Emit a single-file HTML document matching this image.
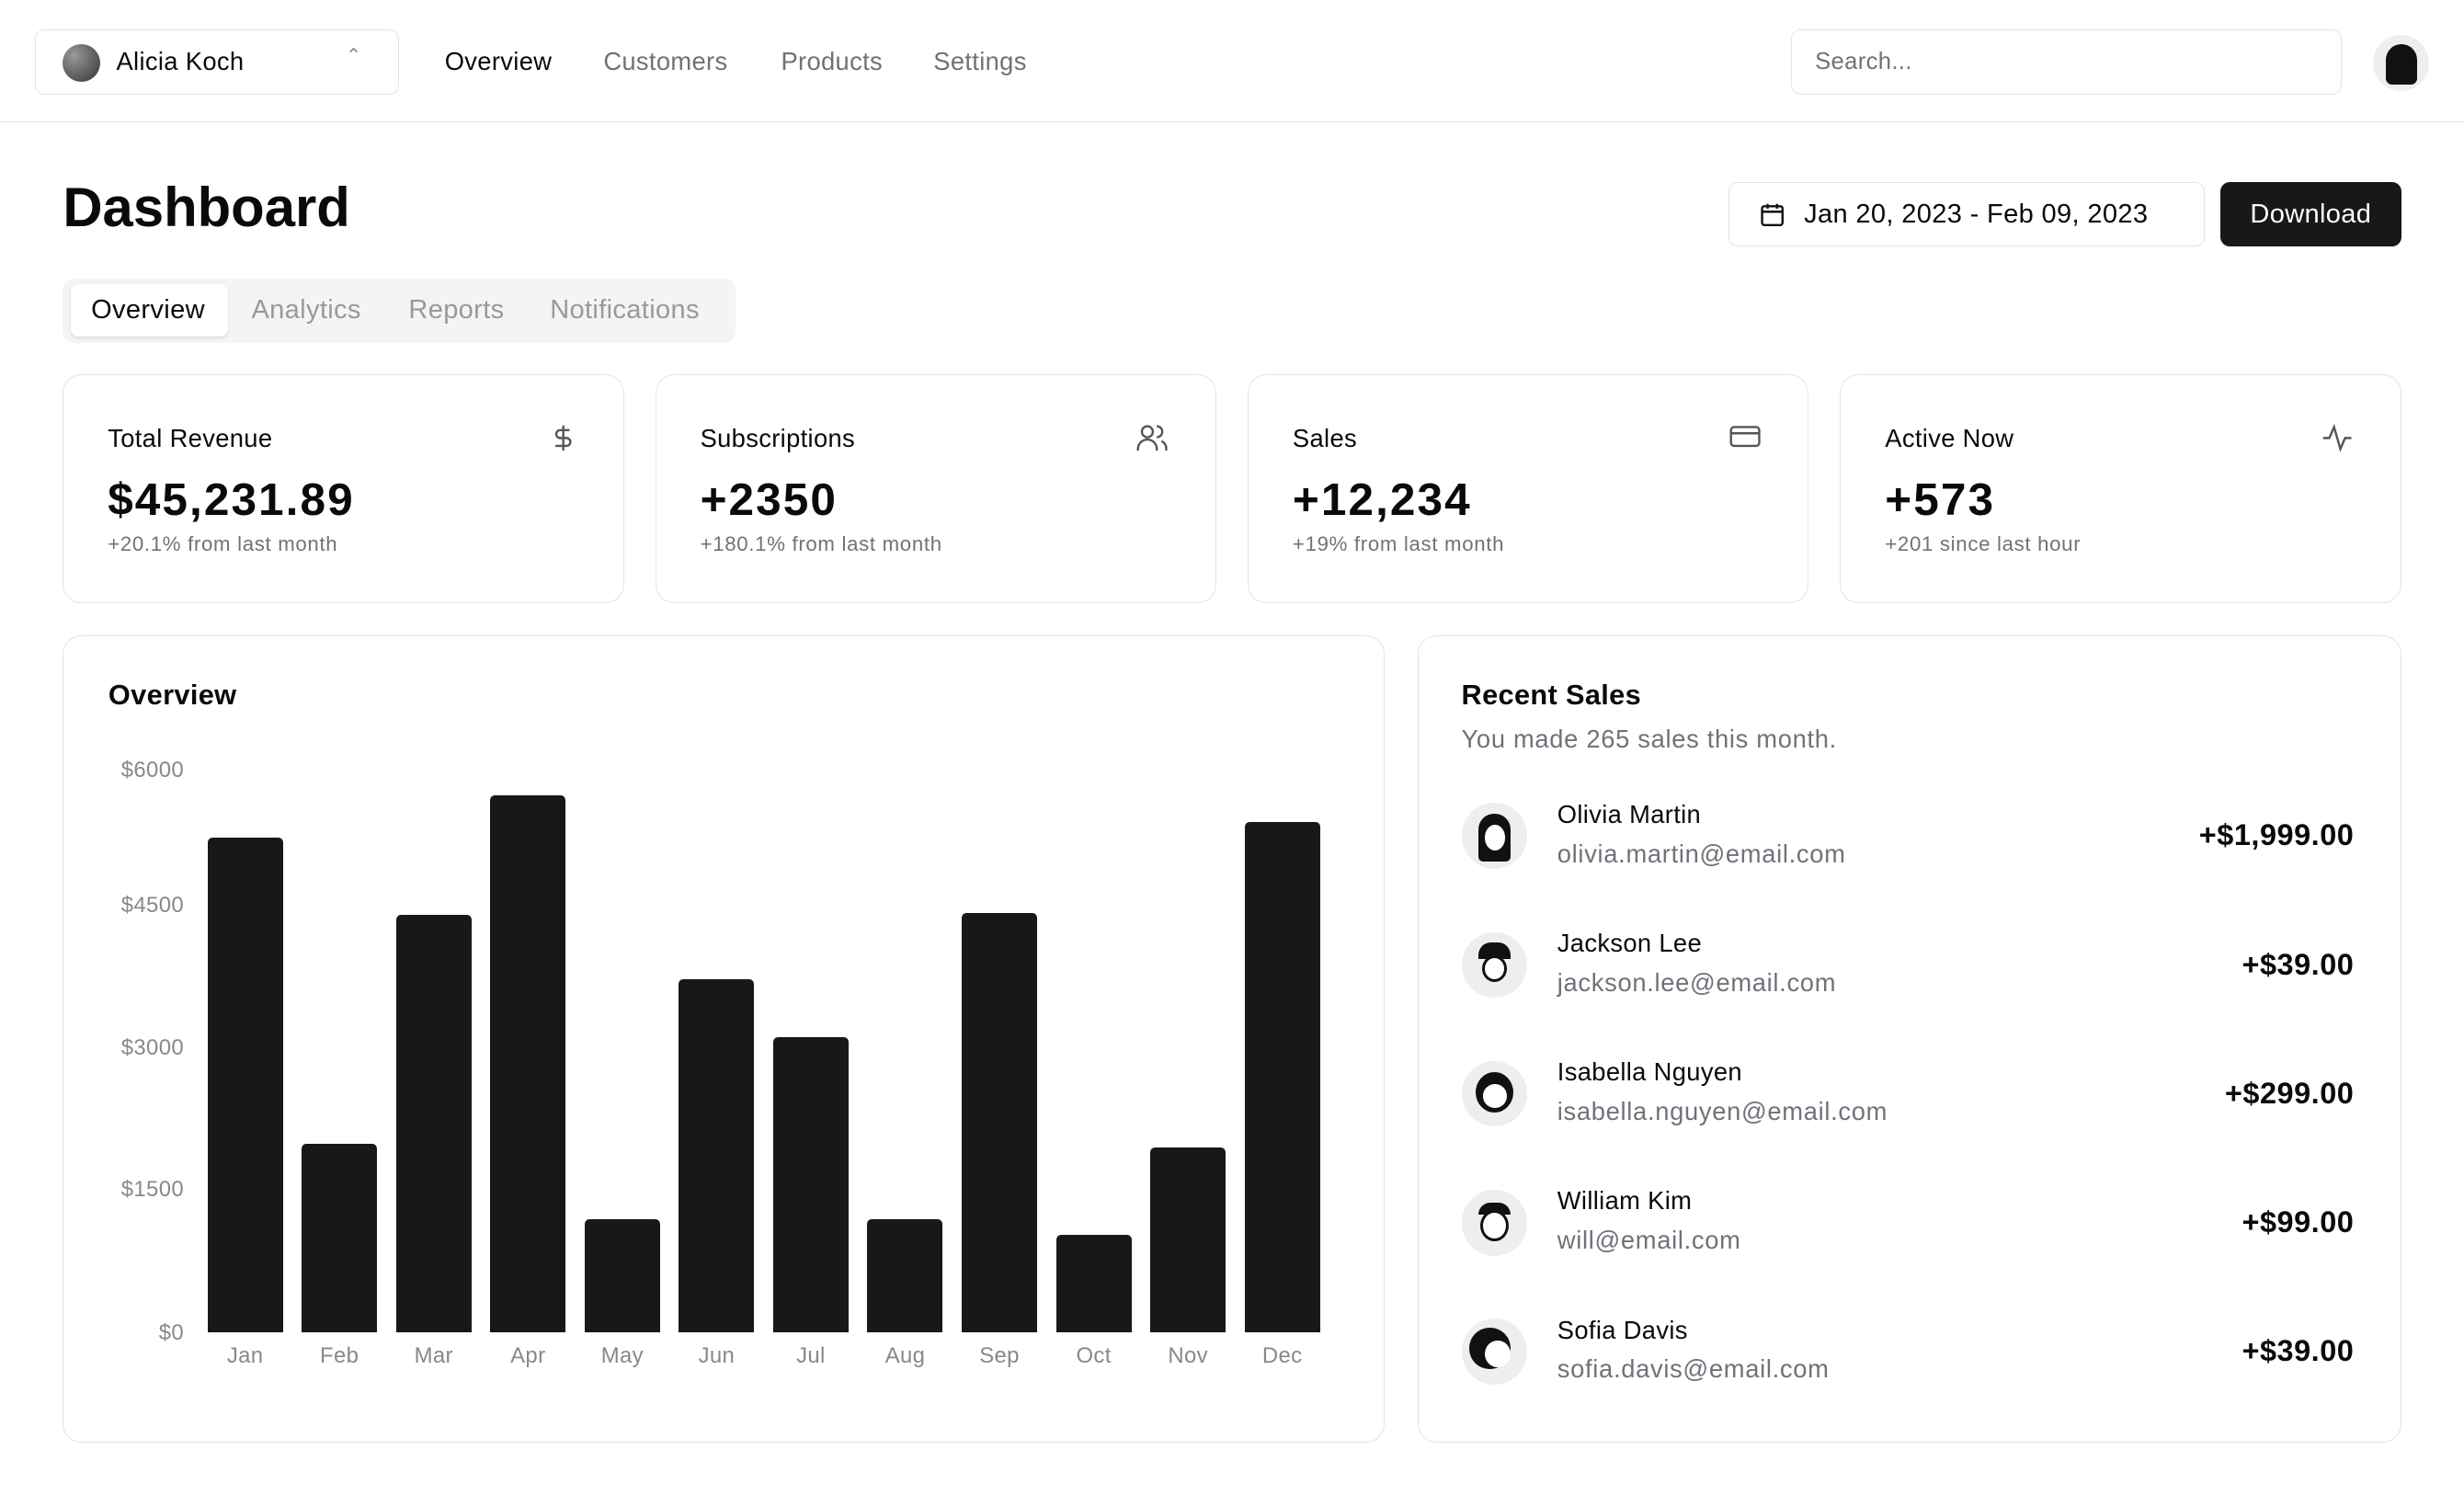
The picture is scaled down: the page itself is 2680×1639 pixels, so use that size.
<!DOCTYPE html>
<html><head><meta charset="utf-8">
<style>
*{box-sizing:border-box;margin:0;padding:0}
html,body{background:#fff}
body{zoom:1.70918;width:1568px;height:959px;position:relative;overflow:hidden;font-family:"Liberation Sans",sans-serif;color:#0a0a0a;letter-spacing:0.2px}
.a{position:absolute}
.box{position:absolute;border:1px solid #e4e4e7;border-radius:10px;background:#fff}
.nav{font-size:16px;top:30px}
.muted{color:#71717a}
.card .t{position:absolute;left:28px;top:31px;font-size:16px}
.card .v{position:absolute;left:28px;top:62px;font-size:29px;font-weight:bold;letter-spacing:1.2px}
.card .s{position:absolute;left:28px;top:100px;font-size:13px;color:#71717a;letter-spacing:0.4px}
.card svg{position:absolute;right:30px;top:31px}
.bar{position:absolute;width:48px;background:#18181b;border-radius:3px 3px 0 0}
.yl{position:absolute;right:0;width:60px;text-align:right;font-size:14px;color:#888}
.ml{position:absolute;width:48px;text-align:center;font-size:14px;color:#888;top:855px}
.row .n{position:absolute;left:991px;font-size:16px}
.row .e{position:absolute;left:991px;font-size:16px;color:#71717a;letter-spacing:0.4px}
.amt{position:absolute;right:70px;font-size:19px;font-weight:bold;letter-spacing:0.3px}
.av{position:absolute;left:930px;width:42px;height:42px;border-radius:50%;background:#eee;overflow:hidden}
</style></head><body>
<div class="box" style="left:22px;top:19px;width:232px;height:41px;border-radius:6px"></div>
<div class="a" style="left:40px;top:28px;width:24px;height:24px;border-radius:50%;background:radial-gradient(circle at 30% 30%,#999,#333)"></div>
<div class="a" style="left:74px;top:30px;font-size:16px">Alicia Koch</div>
<div class="a" style="left:220px;top:28px;font-size:12px;color:#888">⌃<br></div>
<div class="a nav" style="left:283px">Overview</div>
<div class="a nav muted" style="left:384px">Customers</div>
<div class="a nav muted" style="left:497px">Products</div>
<div class="a nav muted" style="left:594px">Settings</div>
<div class="box" style="left:1140px;top:19px;width:350px;height:41px;border-radius:6px"></div>
<div class="a muted" style="left:1155px;top:31px;font-size:15px">Search...</div>
<div class="a" style="left:1510px;top:22px;width:36px;height:36px;border-radius:50%;background:#eee"></div>
<div class="a" style="left:1518px;top:28px;width:20px;height:26px;border-radius:10px 10px 4px 4px;background:#111"></div>
<div class="a" style="left:0;top:77px;width:1568px;height:1px;background:#e4e4e7"></div>

<div class="a" style="left:40px;top:112px;font-size:35px;font-weight:bold;letter-spacing:0">Dashboard</div>
<div class="box" style="left:1100px;top:116px;width:303px;height:41px;border-radius:6px"></div>
<svg class="a" style="left:1120px;top:129px" width="16" height="16" viewBox="0 0 16 16" fill="none" stroke="#111" stroke-width="1.4"><rect x="1.5" y="2.5" width="13" height="12" rx="1.5"/><path d="M1.5 6h13M5 1v3M11 1v3"/></svg>
<div class="a" style="left:1148px;top:127px;font-size:17px">Jan 20, 2023 - Feb 09, 2023</div>
<div class="a" style="left:1413px;top:116px;width:115px;height:41px;border-radius:6px;background:#18181b;color:#fff;font-size:17px;text-align:center;line-height:41px">Download</div>

<div class="a" style="left:40px;top:177px;width:428px;height:41px;border-radius:7px;background:#f4f4f5"></div>
<div class="a" style="left:45px;top:181px;width:100px;height:33px;border-radius:5px;background:#fff;box-shadow:0 1px 2px rgba(0,0,0,.1)"></div>
<div class="a" style="left:58px;top:188px;font-size:17px">Overview</div>
<div class="a" style="left:160px;top:188px;font-size:17px;color:#999">Analytics</div>
<div class="a" style="left:260px;top:188px;font-size:17px;color:#999">Reports</div>
<div class="a" style="left:350px;top:188px;font-size:17px;color:#999">Notifications</div>

<div class="box card" style="left:40px;top:238px;width:357px;height:146px;border-radius:12px"><div class="t">Total Revenue</div><div class="v">$45,231.89</div><div class="s">+20.1% from last month</div><svg width="16" height="18" viewBox="0 0 16 18" fill="none" stroke="#555" stroke-width="1.4"><path d="M8 1v16M12 4H6a2.5 2.5 0 000 5h4a2.5 2.5 0 010 5H3"/></svg></div>
<div class="box card" style="left:417px;top:238px;width:357px;height:146px;border-radius:12px"><div class="t">Subscriptions</div><div class="v">+2350</div><div class="s">+180.1% from last month</div><svg width="20" height="18" viewBox="0 0 20 18" fill="none" stroke="#555" stroke-width="1.4"><circle cx="7" cy="5" r="3.5"/><path d="M1 17v-1a5 5 0 0112 0v1M13 1.5a3.5 3.5 0 010 7M16 11a5 5 0 013 5v1"/></svg></div>
<div class="box card" style="left:794px;top:238px;width:357px;height:146px;border-radius:12px"><div class="t">Sales</div><div class="v">+12,234</div><div class="s">+19% from last month</div><svg width="20" height="16" viewBox="0 0 20 16" fill="none" stroke="#555" stroke-width="1.4"><rect x="1" y="2" width="18" height="12" rx="2"/><path d="M1 6h18"/></svg></div>
<div class="box card" style="left:1171px;top:238px;width:357px;height:146px;border-radius:12px"><div class="t">Active Now</div><div class="v">+573</div><div class="s">+201 since last hour</div><svg width="20" height="18" viewBox="0 0 20 18" fill="none" stroke="#555" stroke-width="1.4"><path d="M1 9h4l3-7 4 14 3-7h4"/></svg></div>

<div class="box" style="left:40px;top:404px;width:841px;height:514px;border-radius:12px"></div>
<div class="a" style="left:69px;top:432px;font-size:18px;font-weight:bold">Overview</div>
<div class="a" style="left:57px;top:0;width:60px;height:900px">
<div class="yl" style="top:482px">$6000</div><div class="yl" style="top:568px">$4500</div><div class="yl" style="top:659px">$3000</div><div class="yl" style="top:749px">$1500</div><div class="yl" style="top:840px">$0</div></div>
<div class="bar" style="left:132px;top:533px;height:315px"></div>
<div class="bar" style="left:192px;top:728px;height:120px"></div>
<div class="bar" style="left:252px;top:582px;height:266px"></div>
<div class="bar" style="left:312px;top:506px;height:342px"></div>
<div class="bar" style="left:372px;top:776px;height:72px"></div>
<div class="bar" style="left:432px;top:623px;height:225px"></div>
<div class="bar" style="left:492px;top:660px;height:188px"></div>
<div class="bar" style="left:552px;top:776px;height:72px"></div>
<div class="bar" style="left:612px;top:581px;height:267px"></div>
<div class="bar" style="left:672px;top:786px;height:62px"></div>
<div class="bar" style="left:732px;top:730px;height:118px"></div>
<div class="bar" style="left:792px;top:523px;height:325px"></div>
<div class="ml" style="left:132px">Jan</div><div class="ml" style="left:192px">Feb</div><div class="ml" style="left:252px">Mar</div><div class="ml" style="left:312px">Apr</div><div class="ml" style="left:372px">May</div><div class="ml" style="left:432px">Jun</div><div class="ml" style="left:492px">Jul</div><div class="ml" style="left:552px">Aug</div><div class="ml" style="left:612px">Sep</div><div class="ml" style="left:672px">Oct</div><div class="ml" style="left:732px">Nov</div><div class="ml" style="left:792px">Dec</div>

<div class="box" style="left:902px;top:404px;width:626px;height:514px;border-radius:12px"></div>
<div class="a" style="left:930px;top:432px;font-size:18px;font-weight:bold">Recent Sales</div>
<div class="a muted" style="left:930px;top:461px;font-size:16px;letter-spacing:0.4px">You made 265 sales this month.</div>
<div class="row">
<div class="av" style="top:511px"><div class="a" style="left:11px;top:7px;width:20px;height:30px;border-radius:10px 10px 3px 3px;background:#111"></div><div class="a" style="left:15px;top:14px;width:13px;height:16px;border-radius:50%;background:#fff"></div></div>
<div class="n" style="top:509px">Olivia Martin</div><div class="e" style="top:534px">olivia.martin@email.com</div><div class="amt" style="top:521px">+$1,999.00</div>
<div class="av" style="top:593px"><div class="a" style="left:11px;top:7px;width:20px;height:10px;border-radius:8px 8px 0 0;background:#111"></div><div class="a" style="left:13px;top:15px;width:16px;height:17px;border-radius:50%;border:2px solid #111;background:#fff"></div></div>
<div class="n" style="top:591px">Jackson Lee</div><div class="e" style="top:616px">jackson.lee@email.com</div><div class="amt" style="top:603px">+$39.00</div>
<div class="av" style="top:675px"><div class="a" style="left:9px;top:7px;width:24px;height:26px;border-radius:50%;background:#111"></div><div class="a" style="left:14px;top:15px;width:15px;height:15px;border-radius:50%;background:#fff"></div></div>
<div class="n" style="top:673px">Isabella Nguyen</div><div class="e" style="top:698px">isabella.nguyen@email.com</div><div class="amt" style="top:685px">+$299.00</div>
<div class="av" style="top:757px"><div class="a" style="left:11px;top:8px;width:20px;height:8px;border-radius:8px 8px 0 0;background:#111"></div><div class="a" style="left:12px;top:13px;width:18px;height:20px;border-radius:50%;border:2px solid #111;background:#fff"></div></div>
<div class="n" style="top:755px">William Kim</div><div class="e" style="top:780px">will@email.com</div><div class="amt" style="top:767px">+$99.00</div>
<div class="av" style="top:839px"><div class="a" style="left:5px;top:6px;width:26px;height:26px;border-radius:50%;background:#111"></div><div class="a" style="left:15px;top:14px;width:16px;height:17px;border-radius:50%;background:#fff"></div></div>
<div class="n" style="top:837px">Sofia Davis</div><div class="e" style="top:862px">sofia.davis@email.com</div><div class="amt" style="top:849px">+$39.00</div>
</div>
</body></html>
